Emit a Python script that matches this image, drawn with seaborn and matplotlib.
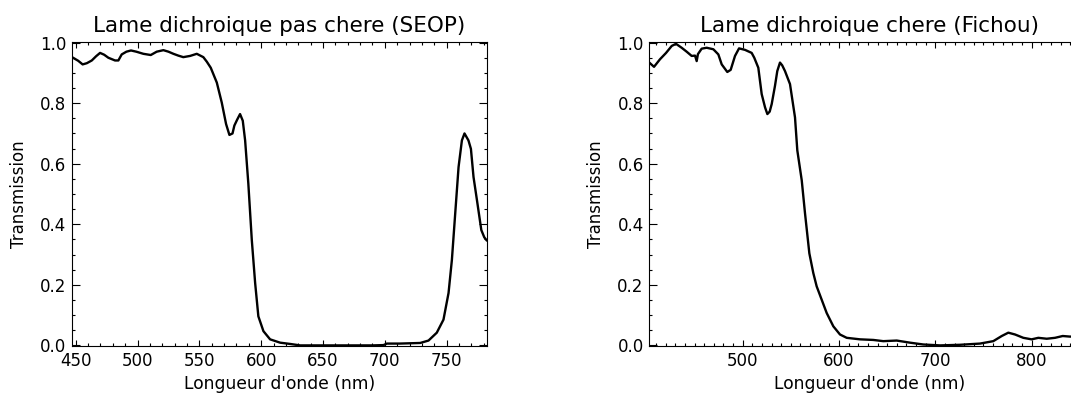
import numpy as np
import pandas as pd
import matplotlib
matplotlib.use("Agg")
import matplotlib.pyplot as plt
import seaborn as sns
from matplotlib.ticker import MultipleLocator, FormatStrFormatter

# ---- data ----
wl_seop = [447, 452, 455.6, 459, 463, 466.5, 469.7, 473, 476.4, 481.8, 484.5, 487.2, 491,
           494.7, 499, 504.7, 510.7, 515.5, 520.9, 525, 529, 533, 537, 542.5, 547.9, 553.2,
           556, 559.2, 564.1, 568.1, 571.6, 574.3, 576.8, 578.3, 580.5, 582.9, 585.1, 587,
           589.6, 592.4, 595.1, 597.7, 601.8, 607.2, 615.3, 623, 631.5, 650, 670, 690, 698.9,
           701.6, 712, 728.6, 735.3, 742, 747.4, 751.5, 754.2, 756.9, 759.6, 762.3, 764.4,
           767.6, 769.6, 771.7, 774.5, 778, 780.4, 782.5]
tr_seop = [0.952, 0.940, 0.928, 0.932, 0.941, 0.955, 0.966, 0.960, 0.950, 0.941, 0.941, 0.961,
           0.970, 0.974, 0.970, 0.963, 0.959, 0.970, 0.975, 0.970, 0.963, 0.957, 0.952, 0.956,
           0.963, 0.952, 0.937, 0.917, 0.868, 0.802, 0.731, 0.695, 0.700, 0.726, 0.745, 0.764,
           0.742, 0.677, 0.534, 0.348, 0.206, 0.096, 0.047, 0.020, 0.009, 0.005, 0.0, 0.0, 0.0,
           0.0, 0.001, 0.006, 0.006, 0.008, 0.016, 0.042, 0.085, 0.173, 0.282, 0.436, 0.589,
           0.677, 0.700, 0.677, 0.649, 0.556, 0.479, 0.381, 0.357, 0.346]

wl_fichou = [403, 407.9, 414.1, 420.4, 426.3, 430.7, 436.6, 441.8, 447, 450.5, 452.2, 453.5,
             457.4, 462.6, 469.5, 474.7, 478.2, 484, 487.5, 492, 496.2, 502.4, 509.3, 512,
             516.2, 519.7, 523.2, 525.6, 528, 530.1, 533.5, 535.9, 538.7, 541, 543.9, 549.1,
             554.3, 556.7, 561.3, 564.7, 569.2, 573.3, 576.8, 582, 587.2, 594.1, 601, 608,
             621.8, 635.6, 646, 659.9, 673.7, 687.5, 705, 725.6, 746.4, 760.2, 769, 775.8,
             782.8, 791.4, 800, 807, 815.7, 824.3, 832.3, 840, 846, 856]
tr_fichou = [0.934, 0.920, 0.945, 0.966, 0.989, 0.996, 0.983, 0.970, 0.956, 0.957, 0.939, 0.962,
             0.980, 0.983, 0.978, 0.961, 0.928, 0.903, 0.910, 0.956, 0.981, 0.976, 0.966, 0.950,
             0.917, 0.830, 0.786, 0.764, 0.772, 0.797, 0.857, 0.906, 0.934, 0.925, 0.906, 0.863,
             0.753, 0.644, 0.545, 0.436, 0.304, 0.239, 0.195, 0.151, 0.107, 0.063, 0.036, 0.025,
             0.020, 0.018, 0.014, 0.016, 0.009, 0.003, 0.0, 0.002, 0.006, 0.014, 0.031, 0.042,
             0.036, 0.025, 0.020, 0.025, 0.022, 0.025, 0.031, 0.029, 0.030, 0.030]

titles = ["Lame dichroique pas chere (SEOP)", "Lame dichroique chere (Fichou)"]
xlabel = "Longueur d'onde (nm)"
ylabel = "Transmission"

sns.set_theme(style="ticks")
plt.rcParams["font.family"] = ["DejaVu Sans"]
for k in ["text.color", "axes.labelcolor", "xtick.color", "ytick.color", "axes.edgecolor"]:
    plt.rcParams[k] = "black"

W, H = 1071, 396
fig = plt.figure(figsize=(W / 100, H / 100), dpi=100)

def px_axes(l, t, r, b):
    return fig.add_axes([l / W, (H - b) / H, (r - l) / W, (b - t) / H])

ax1 = px_axes(72, 42, 487, 346)
ax2 = px_axes(649.3, 42, 1090, 346)

df1 = pd.DataFrame({"wl": wl_seop, "tr": tr_seop})
df2 = pd.DataFrame({"wl": wl_fichou, "tr": tr_fichou})

x2max = 403 + (1090 - 649.3) / 0.963

for ax, df, title, xlim, xmaj in [(ax1, df1, titles[0], (447, 782.6), 50),
                                   (ax2, df2, titles[1], (403, x2max), 100)]:
    sns.lineplot(data=df, x="wl", y="tr", ax=ax, color="black", linewidth=1.7,
                 estimator=None, sort=False)
    ax.set_xlim(*xlim)
    ax.set_ylim(-0.002, 1.002)
    ax.xaxis.set_major_locator(MultipleLocator(xmaj))
    ax.xaxis.set_minor_locator(MultipleLocator(10))
    ax.yaxis.set_major_locator(MultipleLocator(0.2))
    ax.yaxis.set_minor_locator(MultipleLocator(0.05))
    ax.yaxis.set_major_formatter(FormatStrFormatter("%.1f"))
    ax.tick_params(axis="both", which="both", direction="in", top=True, right=True,
                   colors="black", labelcolor="black", width=0.8, labelsize=12, pad=4)
    ax.tick_params(axis="y", which="major", length=5.8)
    ax.tick_params(axis="y", which="minor", length=2.5)
    ax.tick_params(axis="x", which="major", length=4.3)
    ax.tick_params(axis="x", which="minor", length=2.2)
    for s in ax.spines.values():
        s.set_linewidth(0.8)
        s.set_color("black")
    ax.set_title(title, fontsize=15.5, pad=7, color="black")
    ax.set_xlabel(xlabel, fontsize=12.3, labelpad=4, color="black")
    ax.set_ylabel(ylabel, fontsize=12, labelpad=9, color="black")

fig.savefig("out.png", dpi=100)
